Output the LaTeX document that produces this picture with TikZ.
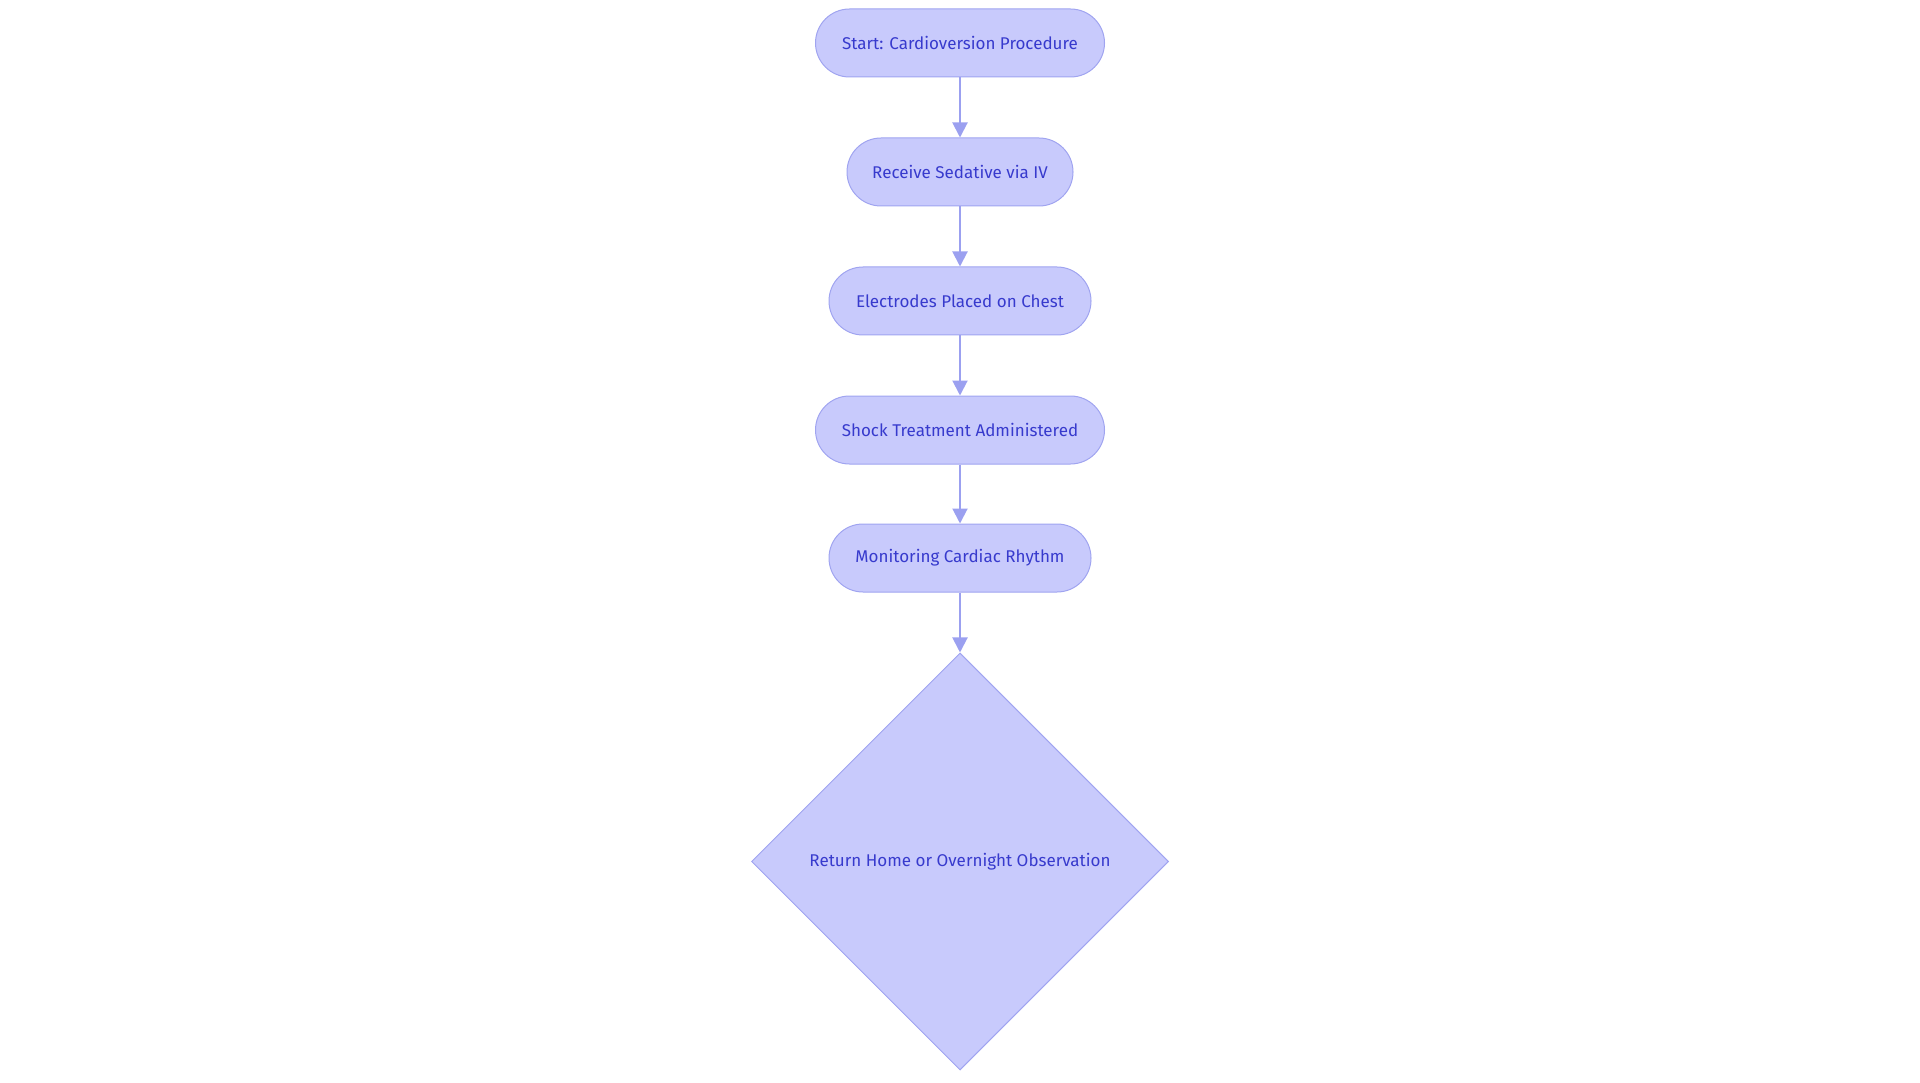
\documentclass[tikz,border=0pt]{standalone}
\usepackage{fontspec}
\setmainfont{Fira Sans}
\usetikzlibrary{shapes.geometric,arrows.meta}
\definecolor{boxfill}{RGB}{200,202,252}
\definecolor{boxline}{RGB}{160,164,240}
\definecolor{txt}{RGB}{55,58,205}
\definecolor{arrcol}{RGB}{155,160,240}
\tikzset{
  pill/.style={draw=boxline, line width=1pt, fill=boxfill, text=txt,
    minimum height=68pt, rounded corners=34pt, inner sep=0pt,
    font=\fontsize{17}{20}\selectfont},
  decide/.style={diamond, draw=boxline, line width=1pt, fill=boxfill, text=txt,
    minimum width=417pt, minimum height=417pt, inner sep=0pt,
    font=\fontsize{17}{20}\selectfont},
  arr/.style={draw=arrcol, line width=2pt, -{Triangle[width=15pt,length=15pt]}}
}
\begin{document}
\begin{tikzpicture}[x=1pt,y=-1pt]
\useasboundingbox (0,0) rectangle (1920,1083);
\node[pill, minimum width=289pt] (b1) at (960,43) {Start: Cardioversion Procedure};
\node[pill, minimum width=226pt] (b2) at (960,172) {Receive Sedative via IV};
\node[pill, minimum width=262pt] (b3) at (960,301) {Electrodes Placed on Chest};
\node[pill, minimum width=289pt] (b4) at (960,430) {Shock Treatment Administered};
\node[pill, minimum width=262pt] (b5) at (960,558) {Monitoring Cardiac Rhythm};
\node[decide] (d) at (960,861.5) {Return Home or Overnight Observation};
\draw[arr] (b1) -- (b2);
\draw[arr] (b2) -- (b3);
\draw[arr] (b3) -- (b4);
\draw[arr] (b4) -- (b5);
\draw[arr] (b5) -- (d);
\end{tikzpicture}
\end{document}
